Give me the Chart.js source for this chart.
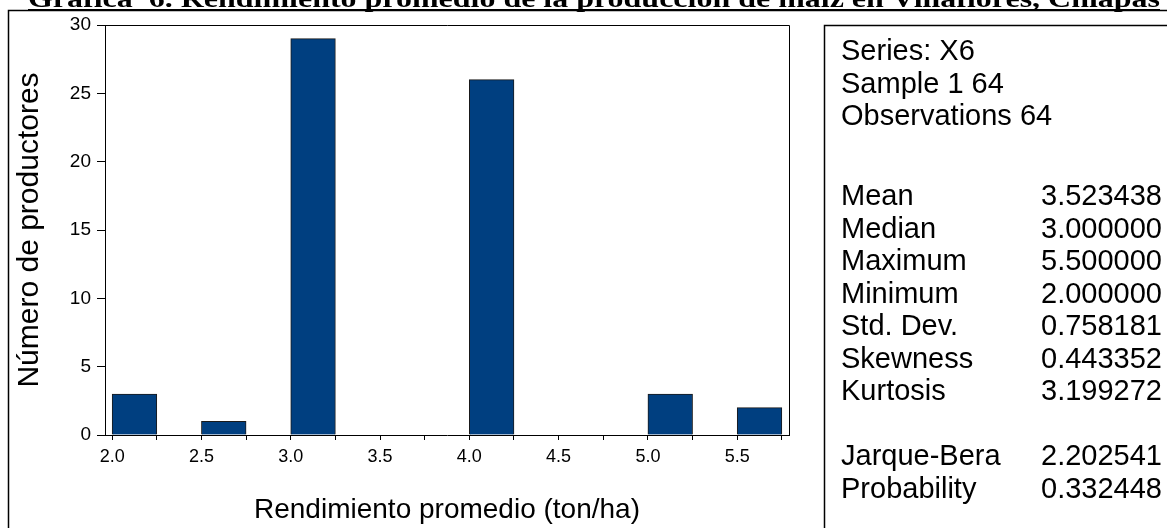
<!DOCTYPE html>
<html>
<head>
<meta charset="utf-8">
<script src="https://cdn.jsdelivr.net/npm/chart.js@4.4.0/dist/chart.umd.min.js"></script>
<style>
  html, body { margin: 0; padding: 0; background: #fff; }
  #wrap { width: 1167px; height: 528px; }
</style>
</head>
<body>
<div id="wrap"><canvas id="histChart"></canvas></div>
<script>
const chartTitle = 'Gráfica  6. Rendimiento promedio de la producción de maíz en Villaflores, Chiapas';
const xTitle = 'Rendimiento promedio (ton/ha)';
const yTitle = 'Número de productores';

// histogram bins: lower edge of each bin and number of producers in it
const binStarts = [2.0, 2.25, 2.5, 2.75, 3.0, 3.25, 3.5, 3.75, 4.0, 4.25, 4.5, 4.75, 5.0, 5.25, 5.5];
const binWidth = 0.25;
const counts = [3, 0, 1, 0, 29, 0, 0, 0, 26, 0, 0, 0, 3, 0, 2];

const xTicks = [2.0, 2.25, 2.5, 2.75, 3.0, 3.25, 3.5, 3.75, 4.0, 4.25, 4.5, 4.75, 5.0, 5.25, 5.5, 5.75];
const xMin = 1.96;
const xMax = 5.79;
const yTicks = [0, 5, 10, 15, 20, 25, 30];

// descriptive statistics panel
const seriesInfo = ['Series: X6', 'Sample 1 64', 'Observations 64'];
const statLabels = ['Mean', 'Median', 'Maximum', 'Minimum', 'Std. Dev.', 'Skewness', 'Kurtosis'];
const statValues = ['3.523438', '3.000000', '5.500000', '2.000000', '0.758181', '0.443352', '3.199272'];
const testLabels = ['Jarque-Bera', 'Probability'];
const testValues = ['2.202541', '0.332448'];

const SANS = '"Liberation Sans", Arial, sans-serif';
const SERIF = '"Liberation Serif", "Times New Roman", serif';

const decorations = {
  id: 'decorations',
  afterDraw(chart) {
    const ctx = chart.ctx;
    const a = chart.chartArea;
    ctx.save();
    ctx.fillStyle = '#000';
    ctx.strokeStyle = '#000';

    // title, squeezed to the page width and underlined
    ctx.font = 'bold 26px ' + SERIF;
    ctx.textBaseline = 'alphabetic';
    ctx.textAlign = 'left';
    const tw = ctx.measureText(chartTitle).width;
    const titleW = 1132;
    ctx.save();
    ctx.translate(28, 7);
    ctx.scale(titleW / tw, 1);
    ctx.fillText(chartTitle, 0, 0);
    ctx.restore();
    ctx.fillRect(28, 9, titleW, 2);

    // outer frame
    ctx.lineWidth = 1.5;
    ctx.beginPath();
    ctx.moveTo(8.5, 528);
    ctx.lineTo(8.5, 10.5);
    ctx.lineTo(1167, 10.5);
    ctx.stroke();

    // top and right edges of the plot box
    ctx.lineWidth = 1;
    ctx.beginPath();
    ctx.moveTo(a.left, a.top + 0.5);
    ctx.lineTo(a.right + 0.5, a.top + 0.5);
    ctx.lineTo(a.right + 0.5, a.bottom);
    ctx.stroke();

    // axis titles
    ctx.font = '28px ' + SANS;
    ctx.textAlign = 'center';
    ctx.textBaseline = 'middle';
    ctx.fillText(xTitle, (a.left + a.right) / 2, 510);
    ctx.font = '30px ' + SANS;
    ctx.save();
    ctx.translate(30, (a.top + a.bottom) / 2);
    ctx.rotate(-Math.PI / 2);
    ctx.fillText(yTitle, 0, 0);
    ctx.restore();

    // statistics box
    ctx.lineWidth = 1.5;
    ctx.strokeRect(824.5, 25.5, 400, 600);
    ctx.font = '29px ' + SANS;
    ctx.textAlign = 'left';
    ctx.textBaseline = 'middle';
    const tx = 841, vx = 1041, lh = 32.5;
    seriesInfo.forEach((t, i) => ctx.fillText(t, tx, 52 + i * lh));
    statLabels.forEach((t, i) => {
      ctx.fillText(t, tx, 197 + i * lh);
      ctx.fillText(statValues[i], vx, 197 + i * lh);
    });
    testLabels.forEach((t, i) => {
      ctx.fillText(t, tx, 457 + i * lh);
      ctx.fillText(testValues[i], vx, 457 + i * lh);
    });
    ctx.restore();
  }
};

const ctx = document.getElementById('histChart').getContext('2d');

new Chart(ctx, {
  type: 'bar',
  data: {
    datasets: [{
      label: 'X6',
      data: binStarts.map((b, i) => ({ x: b + binWidth / 2, y: counts[i] })),
      backgroundColor: '#003f80',
      borderColor: '#1a1a1a',
      borderWidth: 1,
      borderSkipped: 'bottom',
      barPercentage: 1,
      categoryPercentage: 1
    }]
  },
  options: {
    responsive: true,
    maintainAspectRatio: false,
    animation: false,
    devicePixelRatio: 1,
    layout: { padding: { left: 0, top: 25, right: 378, bottom: 0 } },
    plugins: {
      legend: { display: false },
      tooltip: { enabled: false },
      title: { display: false }
    },
    scales: {
      x: {
        type: 'linear',
        offset: false,
        min: xMin,
        max: xMax,
        afterBuildTicks: s => { s.ticks = xTicks.map(v => ({ value: v })); },
        afterFit: s => { s.height = 93; },
        grid: { drawOnChartArea: false, drawTicks: true, tickLength: 5, tickColor: '#000', offset: false },
        border: { display: true, color: '#000', width: 1 },
        ticks: {
          autoSkip: false,
          maxRotation: 0,
          padding: 6,
          color: '#000',
          font: { family: SANS, size: 18 },
          callback: v => (Math.abs(v * 2 - Math.round(v * 2)) < 1e-9 ? v.toFixed(1) : '')
        }
      },
      y: {
        min: 0,
        max: 30,
        afterBuildTicks: s => { s.ticks = yTicks.map(v => ({ value: v })); },
        afterFit: s => { s.width = 105; },
        grid: { drawOnChartArea: false, drawTicks: true, tickLength: 8, tickColor: '#000' },
        border: { display: true, color: '#000', width: 1 },
        ticks: {
          padding: 6,
          color: '#000',
          font: { family: SANS, size: 19 }
        }
      }
    }
  },
  plugins: [decorations]
});
</script>
</body>
</html>
